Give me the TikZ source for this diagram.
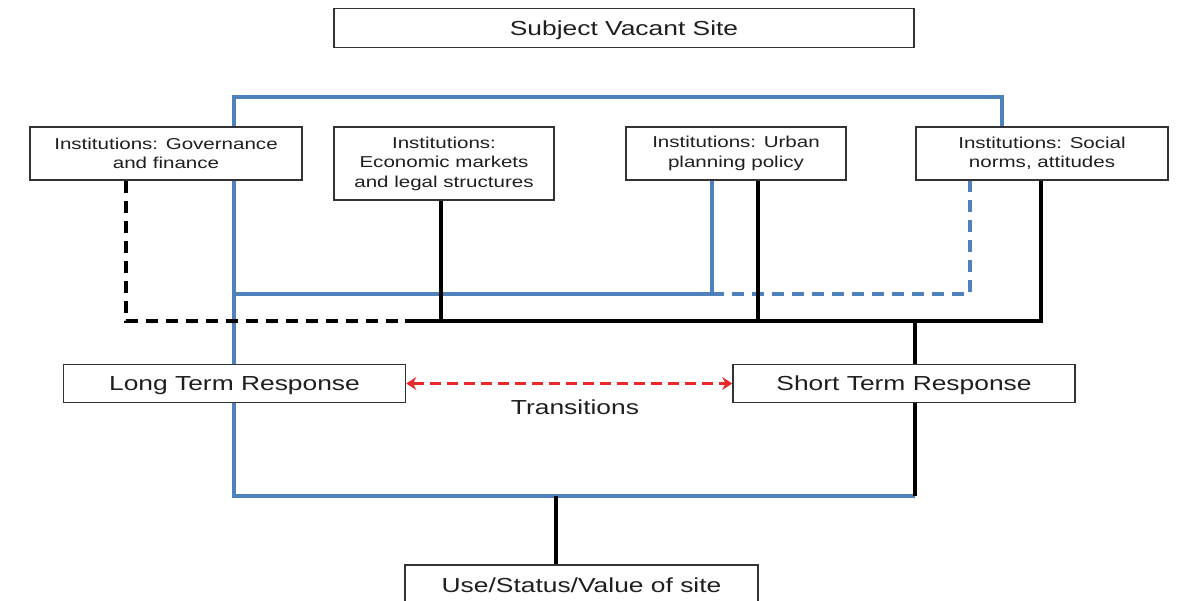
\documentclass[tikz,border=0pt]{standalone}
\usepackage{fontspec}
\setmainfont[FakeStretch=1.3]{Liberation Sans}
\usetikzlibrary{arrows.meta}
\definecolor{lblue}{HTML}{4F81BD}
\definecolor{lred}{HTML}{E8282B}
\begin{document}
\begin{tikzpicture}[x=1pt,y=-1pt,
  box/.style={draw=black!80, line width=1.6pt, fill=white, inner sep=0pt, align=center, text=black!88},
  small/.style={font=\fontsize{15.8}{19.5}\selectfont},
  big/.style={font=\fontsize{20.3}{24}\selectfont, text depth=0pt},
  blueline/.style={draw=lblue, line width=3.2pt},
  blackline/.style={draw=black, line width=3.2pt},
  dashpat/.style={dash pattern=on 12pt off 8pt},
  redarrow/.style={draw=lred, line width=2.8pt, dash pattern=on 11pt off 6pt, {Stealth[length=10pt,width=13pt]}-{Stealth[length=10pt,width=13pt]}}
]
\useasboundingbox (0,0) rectangle (1182,601);
\clip (0,0) rectangle (1182,601);

% nodes
\node[box, big, minimum width=580pt, minimum height=39pt] (subject) at (624,28) {Subject Vacant Site};
\node[box, small, minimum width=272pt, minimum height=53pt] (gov) at (166,153.5) {Institutions: Governance\\and finance};
\node[box, small, minimum width=220pt, minimum height=73pt] (econ) at (444,163.5) {Institutions:\\Economic markets\\and legal structures};
\node[box, small, minimum width=220pt, minimum height=53pt] (urban) at (736,153.5) {Institutions: Urban\\planning policy};
\node[box, small, minimum width=252pt, minimum height=53pt] (social) at (1042,153.5) {Institutions: Social\\norms, attitudes};
\node[box, big, minimum width=342pt, minimum height=38pt] (long) at (234.5,383.5) {Long Term Response};
\node[box, big, minimum width=342pt, minimum height=38pt] (short) at (904,383.5) {Short Term Response};
\node[box, big, minimum width=353pt, minimum height=40pt] (use) at (581.5,585) {Use/Status/Value of site};
\node[big, text=black!88, inner sep=0pt] (trans) at (575,407) {Transitions};

% coordinates
\coordinate (tl) at (234,97);
\coordinate (tr) at (1002,97);
\coordinate (bl) at (234,496);
\coordinate (br) at (915,496);
\coordinate (bm) at (556,496);
\coordinate (bl2) at (234,294);
\coordinate (bj) at (712,294);
\coordinate (bd) at (970,294);
\coordinate (kd) at (126,321);
\coordinate (kd2) at (405,321);
\coordinate (kr) at (1041,321);
\coordinate (ke) at (441,321);
\coordinate (ku) at (758,321);
\coordinate (ks) at (915,321);

% blue connectors
\draw[blueline] (gov.north -| tl) -- (tl) -- (tr) -- (social.north -| tr);
\draw[blueline] (gov.south -| tl) -- (long.north -| tl);
\draw[blueline] (long.south -| tl) -- (bl) -- (br);
\draw[blueline] (bl2) -- (bj) -- (urban.south -| bj);
\draw[blueline, dashpat] (bj) -- (bd) -- (social.south -| bd);

% black connectors
\draw[blackline, dashpat] (gov.south -| kd) -- (kd) -- (kd2);
\draw[blackline] (kd2) -- (kr) -- (social.south -| kr);
\draw[blackline] (econ.south -| ke) -- (ke);
\draw[blackline] (urban.south -| ku) -- (ku);
\draw[blackline] (ks) -- (short.north -| ks);
\draw[blackline] (short.south -| br) -- (br);
\draw[blackline] (bm) -- (use.north -| bm);

% transitions
\draw[redarrow] (long.east) -- (short.west);
\end{tikzpicture}
\end{document}
